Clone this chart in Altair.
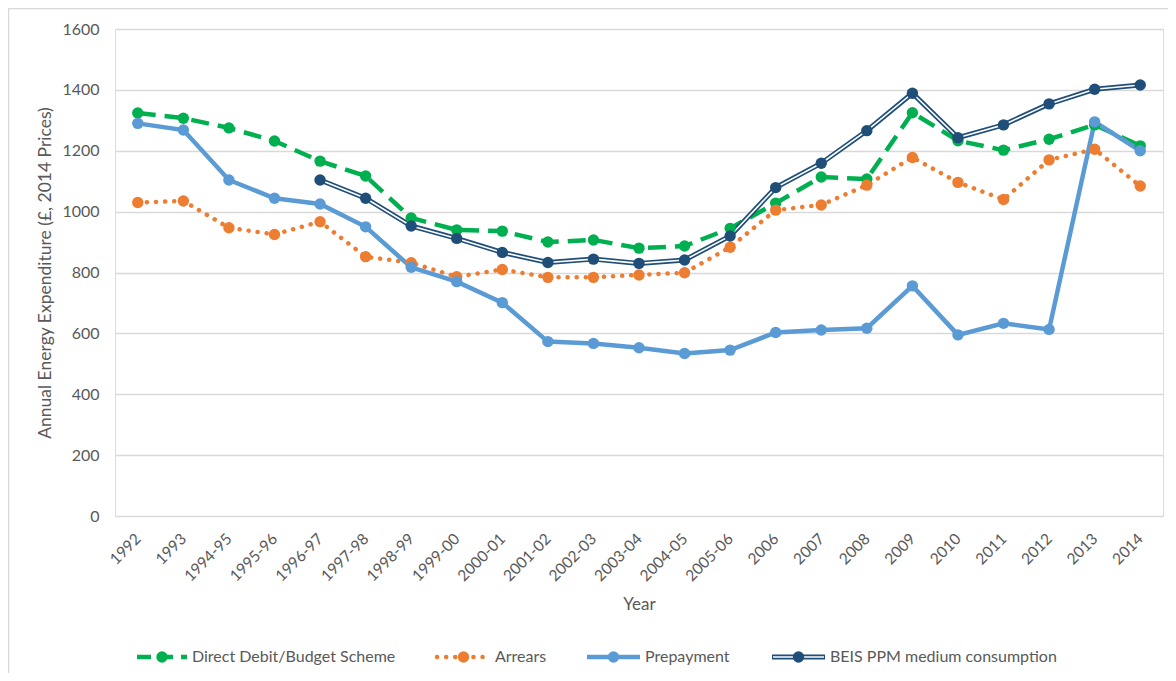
import altair as alt
import pandas as pd

years = ["1992", "1993", "1994-95", "1995-96", "1996-97", "1997-98", "1998-99",
         "1999-00", "2000-01", "2001-02", "2002-03", "2003-04", "2004-05",
         "2005-06", "2006", "2007", "2008", "2009", "2010", "2011", "2012",
         "2013", "2014"]

direct_debit = [1324, 1307, 1275, 1232, 1166, 1117, 979, 940, 936, 900, 907, 880,
                887, 945, 1028, 1114, 1107, 1325, 1233, 1202, 1238, 1285, 1216]
arrears = [1030, 1035, 947, 925, 967, 852, 832, 786, 810, 784, 784, 792, 799,
           883, 1005, 1022, 1087, 1178, 1096, 1040, 1170, 1205, 1084]
prepayment = [1290, 1268, 1104, 1044, 1025, 950, 817, 770, 701, 573, 567, 553,
              534, 545, 603, 611, 617, 756, 595, 633, 613, 1295, 1200]
beis_ppm = [None, None, None, None, 1104, 1044, 953, 912, 866, 833, 844, 830,
            841, 920, 1079, 1159, 1266, 1389, 1243, 1285, 1354, 1402, 1416]

series_names = ["Direct Debit/Budget Scheme", "Arrears", "Prepayment",
                "BEIS PPM medium consumption"]
y_ticks = [0, 200, 400, 600, 800, 1000, 1200, 1400, 1600]

GREEN = "#00B050"
ORANGE = "#ED7D31"
BLUE = "#5B9BD5"
NAVY = "#1F4E79"
GRID = "#D9D9D9"
TEXT = "#595959"
FONT = "Lato"

W, H = 1048, 487


def frame(values):
    d = pd.DataFrame({"Year": years, "value": values})
    return d.dropna()


x_enc = alt.X("Year:N", sort=years,
              scale=alt.Scale(type="point", padding=0.5),
              axis=alt.Axis(title="Year", labelAngle=-45, ticks=False, domain=False,
                            labelPadding=15, labelOffset=-5, labelFontSize=15.5,
                            labelColor=TEXT,
                            labelFont=FONT, titleFont=FONT, titleFontSize=17,
                            titleColor=TEXT, titleFontWeight="normal",
                            titleX=W / 2, titleY=88, titleBaseline="middle",
                            titleAlign="center", grid=False, labelOverlap=False))
y_enc = alt.Y("value:Q", scale=alt.Scale(domain=[0, 1600]),
              axis=alt.Axis(title="Annual Energy Expenditure (£, 2014 Prices)",
                            values=y_ticks, format="d", grid=True, gridColor=GRID,
                            gridWidth=1.5, domain=False, ticks=False, labelPadding=16,
                            labelFontSize=16, labelColor=TEXT, labelFont=FONT,
                            titleFont=FONT, titleFontSize=17.5, titleColor=TEXT,
                            titleFontWeight="normal", titleX=-70, titleY=H / 2,
                            titleAngle=-90, titleAlign="center",
                            titleBaseline="middle"))

dd = frame(direct_debit)
ar = frame(arrears)
pp = frame(prepayment)
bp = frame(beis_ppm)

base_dd = alt.Chart(dd).encode(x=x_enc, y=y_enc)
dd_line = base_dd.mark_line(color=GREEN, strokeWidth=4.5, strokeDash=[18, 9])
dd_pts = base_dd.mark_circle(color=GREEN, size=130, opacity=1)

base_ar = alt.Chart(ar).encode(x=x_enc, y=y_enc)
ar_line = base_ar.mark_line(color=ORANGE, strokeWidth=4.5, strokeDash=[0.1, 9],
                            strokeCap="round")
ar_pts = base_ar.mark_circle(color=ORANGE, size=130, opacity=1)

base_pp = alt.Chart(pp).encode(x=x_enc, y=y_enc)
pp_line = base_pp.mark_line(color=BLUE, strokeWidth=4.5)
pp_pts = base_pp.mark_circle(color=BLUE, size=130, opacity=1)

base_bp = alt.Chart(bp).encode(x=x_enc, y=y_enc)
bp_line_outer = base_bp.mark_line(color=NAVY, strokeWidth=5)
bp_line_inner = base_bp.mark_line(color="white", strokeWidth=1.6)
bp_pts = base_bp.mark_circle(color=NAVY, size=130, opacity=1)

one = pd.DataFrame({"k": [0]})
LEG_Y = 628


def legend_entry(x0, x1, label, color, dash=None, cap="butt", double=False):
    layers = []
    mid = (x0 + x1) / 2
    kw = dict(color=color, strokeWidth=4.5, strokeCap=cap)
    if dash is not None:
        kw["strokeDash"] = dash
    if double:
        kw["strokeWidth"] = 5
    layers.append(alt.Chart(one).mark_rule(**kw).encode(
        x=alt.value(x0), x2=alt.value(x1), y=alt.value(LEG_Y)))
    if double:
        layers.append(alt.Chart(one).mark_rule(color="white", strokeWidth=1.6).encode(
            x=alt.value(x0 + 1), x2=alt.value(x1 - 1), y=alt.value(LEG_Y)))
    layers.append(alt.Chart(one).mark_circle(color=color, size=130, opacity=1).encode(
        x=alt.value(mid), y=alt.value(LEG_Y)))
    layers.append(alt.Chart(one).mark_text(
        text=label, align="left", baseline="middle", font=FONT, fontSize=16,
        color=TEXT).encode(x=alt.value(x1 + 5), y=alt.value(LEG_Y)))
    return layers


legend_layers = []
legend_layers += legend_entry(22, 72, series_names[0], GREEN, dash=[14, 8])
legend_layers += legend_entry(322, 375, series_names[1], ORANGE, dash=[0.1, 9], cap="round")
legend_layers += legend_entry(472, 525, series_names[2], BLUE)
legend_layers += legend_entry(657, 710, series_names[3], NAVY, double=True)

border = alt.Chart(one).mark_rect(fill=None, stroke=GRID, strokeWidth=1.5).encode(
    x=alt.value(-106.5), y=alt.value(-20.5), x2=alt.value(1300), y2=alt.value(800))

chart = alt.layer(
    border,
    dd_line, ar_line, pp_line, bp_line_outer, bp_line_inner,
    dd_pts, ar_pts, pp_pts, bp_pts,
    *legend_layers,
).properties(
    width=W, height=H,
    padding={"left": 107, "top": 21, "right": 5, "bottom": 157},
    autosize=alt.AutoSizeParams(type="none"),
).configure_view(stroke=None).configure(background="white")

chart.save("out.html", embed_options={"renderer": "svg", "actions": False})
